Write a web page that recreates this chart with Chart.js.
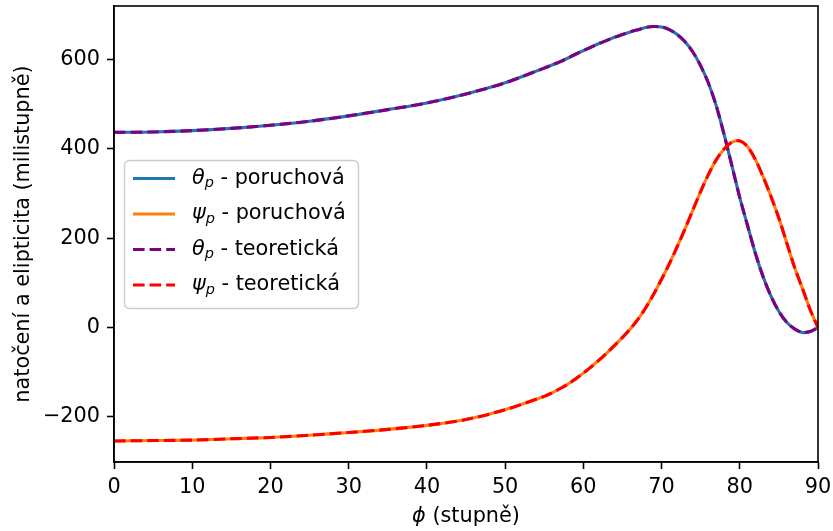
<!DOCTYPE html>
<html><head><meta charset="utf-8">
<script src="https://cdn.jsdelivr.net/npm/chart.js@4/dist/chart.umd.min.js"></script>
<style>html,body{margin:0;padding:0;background:#fff}#wrap{width:833px;height:531px}</style>
</head><body><div id="wrap"><canvas id="c"></canvas></div>
<script>
// ---- data ----
const phi = [0,5,10,15,20,25,30,35,40,45,50,55,56,57,58,59,60,61,62,63,64,65,66,67,68,69,70,71,72,73,74,75,76,77,78,79,80,81,82,83,84,85,86,87,88,89,90];
const thetaPoruchova = [437,438,441,446,453,462,474,488,503,523,548,581,588,595,603,612,620,628,636,643,650,656,662,667,672,674,673,667,656,640,617,586,547,496,432,362,291,228,166,113,70,36,12,-3,-11,-9,0];
const psiPoruchova = [-254,-253,-252,-249,-246,-241,-235,-228,-219,-206,-184,-154,-146,-137,-127,-115,-102,-88,-73,-57,-40,-22,-3,19,45,75,108,143,181,221,263,305,343,376,400,415,418,405,376,337,293,245,190,135,88,40,0];
const thetaTeoreticka = [437,438,441,446,453,462,474,488,503,523,548,581,588,595,603,612,620,628,636,643,650,656,662,667,672,674,673,667,656,640,617,586,547,496,432,362,291,228,166,113,70,36,12,-3,-11,-9,0];
const psiTeoreticka = [-254,-253,-252,-249,-246,-241,-235,-228,-219,-206,-184,-154,-146,-137,-127,-115,-102,-88,-73,-57,-40,-22,-3,19,45,75,108,143,181,221,263,305,343,376,400,415,418,405,376,337,293,245,190,135,88,40,0];
const xTicks = [0,10,20,30,40,50,60,70,80,90];
const yTicks = [-200,0,200,400,600];
const seriesSymbols = ['θ','ψ','θ','ψ'];
const seriesNames = [' - poruchová',' - poruchová',' - teoretická',' - teoretická'];
const xTitleSymbol = 'ϕ';
const xTitleRest = ' (stupně)';
const yTitle = 'natočení a elipticita (milistupně)';

const FONT = "'DejaVu Sans', sans-serif";
const FS = 20.8;
const pts = (ys) => phi.map((x, i) => ({x: x, y: ys[i]}));

const DASH = [11.6, 5];
const series = [
  {data: thetaPoruchova, color: '#1f77b4', dash: []},
  {data: psiPoruchova, color: '#ff7f0e', dash: []},
  {data: thetaTeoreticka, color: '#800080', dash: DASH},
  {data: psiTeoreticka, color: '#ff0000', dash: DASH}
];

const LW = 3.1;

const extras = {
  id: 'extras',
  afterDatasetsDraw(chart) {
    const ctx = chart.ctx, a = chart.chartArea;
    ctx.save();
    ctx.strokeStyle = '#000';
    ctx.lineWidth = 1.6;
    ctx.strokeRect(a.left, a.top, a.right - a.left, a.bottom - a.top);
    const bx = 124.5, by = 160.5, bw = 234, bh = 148;
    ctx.beginPath();
    ctx.roundRect(bx, by, bw, bh, 5);
    ctx.fillStyle = 'rgba(255,255,255,0.8)';
    ctx.fill();
    ctx.strokeStyle = '#cccccc';
    ctx.lineWidth = 1.4;
    ctx.stroke();
    const rows = [178.5, 214, 249.5, 285];
    series.forEach((s, i) => {
      const y = rows[i];
      ctx.beginPath();
      ctx.setLineDash(s.dash);
      ctx.strokeStyle = s.color;
      ctx.lineWidth = LW;
      ctx.moveTo(133, y);
      ctx.lineTo(175, y);
      ctx.stroke();
      ctx.setLineDash([]);
      ctx.fillStyle = '#000';
      ctx.textBaseline = 'middle';
      ctx.textAlign = 'left';
      let x = 192;
      ctx.font = 'italic ' + FS + 'px ' + FONT;
      ctx.fillText(seriesSymbols[i], x, y);
      x += ctx.measureText(seriesSymbols[i]).width;
      ctx.font = 'italic 14.5px ' + FONT;
      ctx.fillText('p', x, y + 5);
      x += ctx.measureText('p').width;
      ctx.font = FS + 'px ' + FONT;
      ctx.fillText(seriesNames[i], x, y);
    });
    ctx.restore();
  },
  afterDraw(chart) {
    const ctx = chart.ctx, a = chart.chartArea;
    ctx.save();
    ctx.fillStyle = '#000';
    ctx.textBaseline = 'middle';
    ctx.textAlign = 'left';
    ctx.font = 'italic ' + FS + 'px ' + FONT;
    const w1 = ctx.measureText(xTitleSymbol).width;
    ctx.font = FS + 'px ' + FONT;
    const w2 = ctx.measureText(xTitleRest).width;
    let x = (a.left + a.right) / 2 - (w1 + w2) / 2;
    ctx.font = 'italic ' + FS + 'px ' + FONT;
    ctx.fillText(xTitleSymbol, x, 517);
    ctx.font = FS + 'px ' + FONT;
    ctx.fillText(xTitleRest, x + w1, 517);
    ctx.restore();
  }
};

new Chart(document.getElementById('c'), {
  type: 'line',
  data: {
    datasets: series.map((s, i) => ({
      label: seriesSymbols[i] + 'p' + seriesNames[i],
      data: pts(s.data),
      borderColor: s.color,
      backgroundColor: s.color,
      borderWidth: LW,
      borderDash: s.dash,
      pointRadius: 0,
      fill: false,
      tension: 0.3,
      order: 3 - i
    }))
  },
  options: {
    responsive: true,
    maintainAspectRatio: false,
    animation: false,
    layout: {padding: {left: 0, right: 15, top: 6, bottom: 0}},
    plugins: {legend: {display: false}, tooltip: {enabled: false}},
    scales: {
      x: {
        type: 'linear', min: 0, max: 90,
        afterBuildTicks: (s) => { s.ticks = xTicks.map(v => ({value: v})); },
        afterFit: (s) => { s.height = 69; s.paddingLeft = 0; s.paddingRight = 0; },
        grid: {display: true, drawOnChartArea: false, drawTicks: true, tickLength: 7, tickColor: '#000', tickWidth: 1.6},
        border: {display: true, color: '#000', width: 1.6},
        ticks: {color: '#000', font: {family: FONT, size: FS}, padding: 6, maxRotation: 0, autoSkip: false},
        title: {display: false}
      },
      y: {
        type: 'linear', min: -301, max: 720,
        afterBuildTicks: (s) => { s.ticks = yTicks.map(v => ({value: v})); },
        afterFit: (s) => { s.width = 114; s.paddingTop = 0; s.paddingBottom = 0; },
        grid: {display: true, drawOnChartArea: false, drawTicks: true, tickLength: 7, tickColor: '#000', tickWidth: 1.6},
        border: {display: true, color: '#000', width: 1.6},
        ticks: {color: '#000', font: {family: FONT, size: FS}, padding: 7, autoSkip: false,
          callback: (v) => String(v).replace('-', '\u2212')},
        title: {display: true, text: yTitle, color: '#000', font: {family: FONT, size: FS}, padding: {top: 11, bottom: 0}}
      }
    }
  },
  plugins: [extras]
});
</script>
</body></html>
